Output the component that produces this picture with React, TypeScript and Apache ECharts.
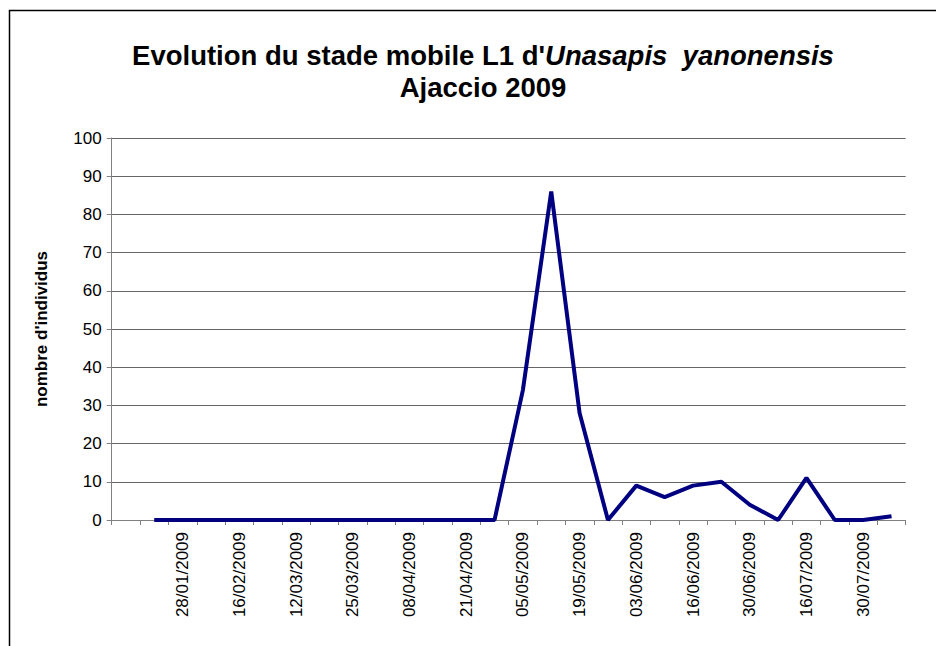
import React, { useEffect, useRef } from "react";
import * as echarts from "echarts";

const categories: string[] = [
  "",
  "20/01/2009", "28/01/2009", "04/02/2009", "16/02/2009", "26/02/2009",
  "12/03/2009", "18/03/2009", "25/03/2009", "01/04/2009", "08/04/2009",
  "15/04/2009", "21/04/2009", "28/04/2009", "05/05/2009", "12/05/2009",
  "19/05/2009", "26/05/2009", "03/06/2009", "09/06/2009", "16/06/2009",
  "23/06/2009", "30/06/2009", "07/07/2009", "16/07/2009", "23/07/2009",
  "30/07/2009", "06/08/2009",
];

const values: (number | null)[] = [
  null,
  0, 0, 0, 0, 0, 0, 0, 0, 0, 0, 0, 0, 0,
  34, 86, 28, 0, 9, 6, 9, 10, 4, 0, 11, 0, 0, 1,
];

const yTicks = { min: 0, max: 100, interval: 10 };

const titleLine1a = "Evolution du stade mobile L1 d'";
const titleLine1b = "Unasapis  yanonensis";
const titleLine2 = "Ajaccio 2009";
const yName = "nombre d'individus";

export default function App() {
  const ref = useRef<HTMLDivElement>(null);
  useEffect(() => {
    if (!ref.current) return;
    const chart = echarts.init(ref.current, null, { renderer: "svg" });
    const font = "Arial, 'Liberation Sans', sans-serif";
    chart.setOption({
      animation: false,
      backgroundColor: "#ffffff",
      textStyle: { fontFamily: font },
      title: {
        text: `{n|${titleLine1a}}{i|${titleLine1b}}\n{n|${titleLine2}}`,
        left: 478,
        top: 34,
        textAlign: "center",
        textStyle: {
          rich: {
            n: { fontSize: 27.5, fontWeight: "bold", fontFamily: font, color: "#000", lineHeight: 32 },
            i: { fontSize: 27.5, fontWeight: "bold", fontStyle: "italic", fontFamily: font, color: "#000", lineHeight: 32 },
          },
        },
      },
      graphic: [
        {
          type: "rect",
          shape: { x: 9.5, y: 10.5, width: 1000, height: 1000 },
          style: { fill: "none", stroke: "#000", lineWidth: 1.5 },
          silent: true,
        },
      ],
      grid: { left: 111.7, right: 30.3, top: 138, bottom: 126, containLabel: false },
      xAxis: {
        type: "category",
        data: categories,
        boundaryGap: true,
        axisLine: { lineStyle: { color: "#808080", width: 1 } },
        axisTick: { show: true, interval: 0, length: 5, alignWithLabel: false, lineStyle: { color: "#808080" } },
        axisLabel: {
          interval: 1,
          rotate: 90,
          margin: 12,
          fontSize: 17,
          color: "#000",
          fontFamily: font,
        },
        splitLine: { show: false },
      },
      yAxis: {
        type: "value",
        min: yTicks.min,
        max: yTicks.max,
        interval: yTicks.interval,
        name: yName,
        nameLocation: "middle",
        nameGap: 62,
        nameRotate: 90,
        nameTextStyle: { fontSize: 17, fontWeight: "bold", color: "#000", fontFamily: font },
        axisLine: { show: true, lineStyle: { color: "#808080", width: 1 } },
        axisTick: { show: true, length: 5, lineStyle: { color: "#808080" } },
        axisLabel: { margin: 10, fontSize: 17, color: "#000", fontFamily: font },
        splitLine: { show: true, lineStyle: { color: "#666666", width: 1 } },
      },
      series: [
        {
          type: "line",
          data: values,
          symbol: "none",
          connectNulls: false,
          lineStyle: { color: "#000080", width: 4 },
          itemStyle: { color: "#000080" },
        },
      ],
    });
    return () => chart.dispose();
  }, []);
  return (
    <div
      ref={ref}
      style={{ position: "absolute", left: 0, top: 0, width: 936, height: 646 }}
    />
  );
}
